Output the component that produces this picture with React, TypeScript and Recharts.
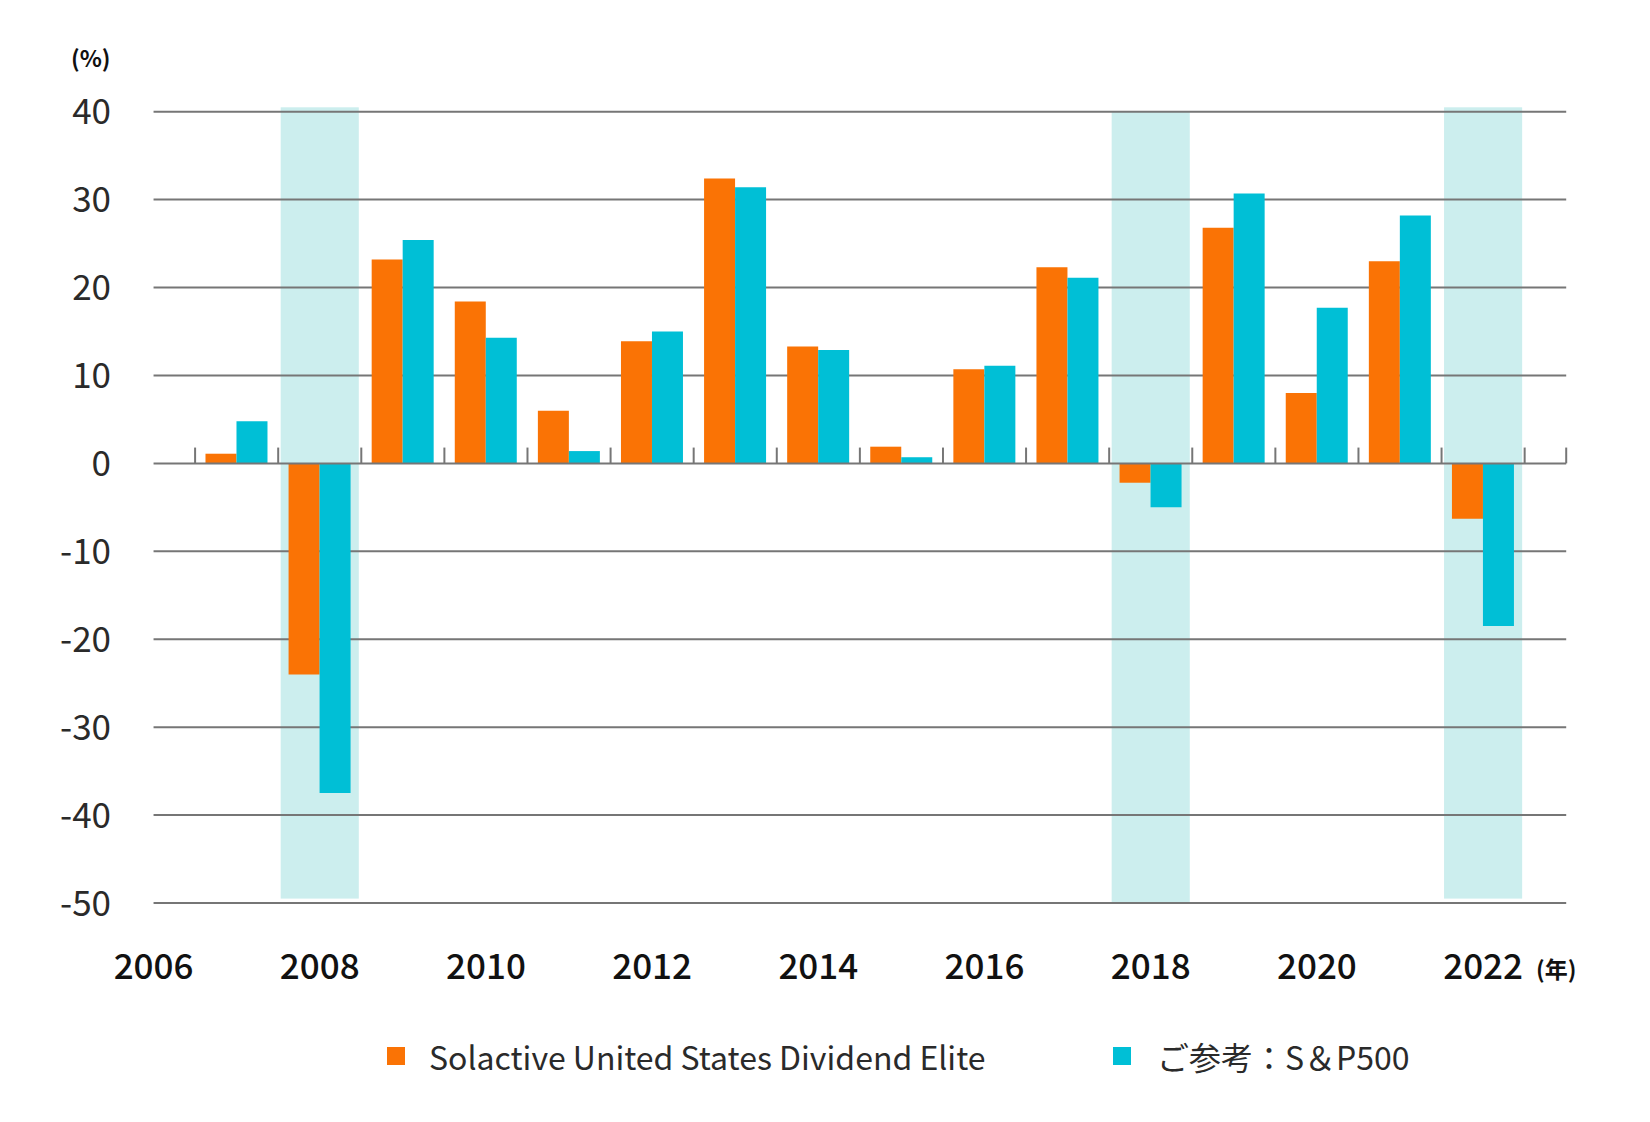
import {
  BarChart,
  Bar,
  XAxis,
  YAxis,
  ReferenceArea,
  ReferenceLine,
} from "recharts"

const years = [
  "2006", "2007", "2008", "2009", "2010", "2011", "2012", "2013", "2014",
  "2015", "2016", "2017", "2018", "2019", "2020", "2021", "2022", "2023",
]
const dividendElite = [
  null, 1.1, -24.0, 23.2, 18.4, 6.0, 13.9, 32.4, 13.3,
  1.9, 10.7, 22.3, -2.2, 26.8, 8.0, 23.0, -6.3, null,
]
const sp500 = [
  null, 4.8, -37.5, 25.4, 14.3, 1.4, 15.0, 31.4, 12.9,
  0.7, 11.1, 21.1, -5.0, 30.7, 17.7, 28.2, -18.5, null,
]
const labelYears = ["2006", "2008", "2010", "2012", "2014", "2016", "2018", "2020", "2022"]
const highlightYears = ["2008", "2018", "2022"]
const yTicks = [40, 30, 20, 10, 0, -10, -20, -30, -40, -50]
const seriesNames = ["Solactive United States Dividend Elite", "ご参考：S＆P500"]

const ORANGE = "#fa7305"
const CYAN = "#00bfd6"
const BAND = "#cceeee"
const GRID = "#767676"
const FONT = '"Noto Sans CJK JP", "Noto Sans", sans-serif'

const chartData = years.map((y, i) => ({
  year: y,
  elite: dividendElite[i],
  sp: sp500[i],
}))

const XTick = (props: any) => {
  const { x, y, payload } = props
  if (!labelYears.includes(payload.value)) return null
  return (
    <g>
      <text
        x={x}
        y={y + 74}
        textAnchor="middle"
        fontSize={35}
        fontWeight={500}
        fill="#111"
        fontFamily={FONT}
      >
        {payload.value}
      </text>
      {payload.value === "2022" && (
        <text
          x={x + 53}
          y={y + 73}
          textAnchor="start"
          fontSize={23}
          fontWeight={700}
          fill="#111"
          fontFamily={FONT}
        >
          (年)
        </text>
      )}
    </g>
  )
}

const YTick = (props: any) => {
  const { y, payload } = props
  return (
    <text
      x={111}
      y={y + 12.5}
      textAnchor="end"
      fontSize={35}
      fill="#2a2a2a"
      fontFamily={FONT}
    >
      {payload.value}
    </text>
  )
}

const BandShape = (props: any) => {
  const { x, y, width, height } = props
  return <rect x={x + 2.5} y={y} width={width - 5} height={height} fill={BAND} />
}

const App = () => {
  const bandExtent = (yr: string) =>
    yr === "2018" ? { y1: -50, y2: 40 } : { y1: -49.5, y2: 40.5 }

  return (
    <div
      style={{
        position: "absolute",
        left: 0,
        top: 0,
        width: 1650,
        height: 1122,
        background: "#fff",
        fontFamily: FONT,
      }}
    >
      <div
        style={{
          position: "absolute",
          left: 71,
          top: 40,
          fontSize: 23,
          fontWeight: 700,
          color: "#111",
        }}
      >
        (%)
      </div>

      <BarChart
        width={1650}
        height={1122}
        data={chartData}
        margin={{ top: 111.7, right: 42.25, bottom: 119, left: 0 }}
        barCategoryGap="12.5%"
        barGap={0}
      >
        <XAxis
          dataKey="year"
          interval={0}
          tickLine={false}
          axisLine={false}
          tickSize={0}
          height={100}
          tick={<XTick />}
        />
        <YAxis
          width={112}
          domain={[-50, 40]}
          ticks={yTicks}
          allowDataOverflow
          tickLine={false}
          axisLine={false}
          tickSize={0}
          tick={<YTick />}
        />

        {highlightYears.map((yr) => (
          <ReferenceArea
            key={yr}
            x1={yr}
            x2={yr}
            {...bandExtent(yr)}
            ifOverflow="visible"
            shape={<BandShape />}
            zIndex={100}
          />
        ))}

        {yTicks
          .filter((t) => t !== 0)
          .map((t) => (
            <ReferenceLine
              key={t}
              segment={[
                { x: years[0], y: t },
                { x: years[years.length - 1], y: t },
              ]}
              stroke={GRID}
              strokeWidth={2}
              ifOverflow="visible"
              zIndex={200}
            />
          ))}

        <Bar dataKey="elite" name={seriesNames[0]} fill={ORANGE} isAnimationActive={false} zIndex={300} />
        <Bar dataKey="sp" name={seriesNames[1]} fill={CYAN} isAnimationActive={false} zIndex={300} />

        <ReferenceLine
          segment={[
            { x: years[0], y: 0 },
            { x: years[years.length - 1], y: 0 },
          ]}
          stroke={GRID}
          strokeWidth={2}
          ifOverflow="visible"
          zIndex={400}
        />
        {years.slice(1).map((yr) => (
          <ReferenceLine
            key={"t" + yr}
            segment={[
              { x: yr, y: 0 },
              { x: yr, y: 1.8 },
            ]}
            position="start"
            stroke={GRID}
            strokeWidth={2}
            ifOverflow="visible"
            zIndex={400}
          />
        ))}
        <ReferenceLine
          segment={[
            { x: years[years.length - 1], y: 0 },
            { x: years[years.length - 1], y: 1.8 },
          ]}
          stroke={GRID}
          strokeWidth={2}
          ifOverflow="visible"
          zIndex={400}
        />
      </BarChart>

      {seriesNames.map((name, i) => (
        <div
          key={name}
          style={{
            position: "absolute",
            left: i === 0 ? 387 : 1113,
            top: 1034,
            height: 44,
            display: "flex",
            alignItems: "center",
            fontSize: 32,
            color: "#2a2a2a",
            whiteSpace: "nowrap",
          }}
        >
          <span
            style={{
              display: "inline-block",
              width: 18,
              height: 18,
              background: i === 0 ? ORANGE : CYAN,
              marginRight: i === 0 ? 24 : 26,
            }}
          />
          {name}
        </div>
      ))}
    </div>
  )
}

export default App
